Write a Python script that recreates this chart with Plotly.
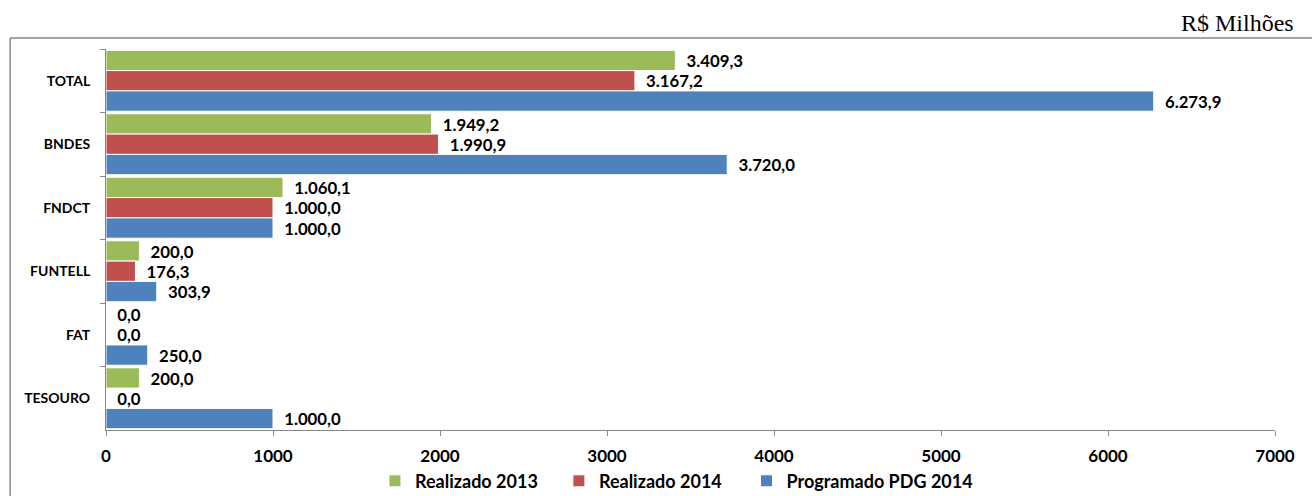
import plotly.graph_objects as go

categories = ["TOTAL", "BNDES", "FNDCT", "FUNTELL", "FAT", "TESOURO"]
realizado_2013 = [3409.3, 1949.2, 1060.1, 200.0, 0.0, 200.0]
realizado_2014 = [3167.2, 1990.9, 1000.0, 176.3, 0.0, 0.0]
programado_2014 = [6273.9, 3720.0, 1000.0, 303.9, 250.0, 1000.0]
series_names = ["Realizado 2013", "Realizado 2014", "Programado PDG 2014"]
colors = ["#9BBB59", "#C0504D", "#4F81BD"]
x_ticks = [0, 1000, 2000, 3000, 4000, 5000, 6000, 7000]

FONT = "Lato"
legend_ids = ["legend", "legend2", "legend3"]
legend_x = [0.2858, 0.426, 0.569]

fig = go.Figure()
for name, vals, col, lg in zip(series_names, [realizado_2013, realizado_2014, programado_2014],
                               colors, legend_ids):
    fig.add_trace(go.Bar(
        y=categories, x=vals, name=name, orientation="h", legend=lg,
        marker=dict(color=col, line=dict(color="white", width=1)),
        texttemplate="  %{x:,.1f}", textposition="outside", cliponaxis=False,
        textfont=dict(family=FONT, size=19, color="black", weight="bold"),
    ))

leg_common = dict(orientation="h", xref="container", yref="container", xanchor="left",
                  y=0.03, yanchor="middle", itemwidth=30,
                  font=dict(family=FONT, size=18, weight="bold"))
layout_legends = {lg: dict(x=lx, **leg_common) for lg, lx in zip(legend_ids, legend_x)}

fig.update_layout(
    width=1312, height=496,
    margin=dict(l=106, r=37, t=49, b=66, autoexpand=False),
    paper_bgcolor="white", plot_bgcolor="white",
    separators=",.",
    barmode="group", bargap=0.04, bargroupgap=0,
    font=dict(family=FONT, color="black"),
    showlegend=True,
    **layout_legends,
)
fig.update_xaxes(range=[0, 7000], tickvals=x_ticks, showgrid=False, zeroline=False,
                 showline=True, linecolor="#888888", linewidth=1,
                 ticks="outside", ticklen=5, tickcolor="#888888", automargin=False,
                 ticklabelstandoff=6,
                 tickfont=dict(family=FONT, size=17, weight="bold"))
fig.update_yaxes(autorange="reversed", showgrid=False, showline=True,
                 linecolor="#888888", linewidth=1, ticks="outside", ticklen=5,
                 tickcolor="#888888", tickson="boundaries", automargin=False,
                 ticklabelstandoff=12,
                 tickfont=dict(family=FONT, size=14, weight="bold"))

# outer frame
fig.add_shape(type="line", xref="paper", yref="paper", x0=-0.082, x1=1.05, y0=1.029, y1=1.029,
              line=dict(color="#888888", width=1.5))
fig.add_shape(type="line", xref="paper", yref="paper", x0=-0.082, x1=-0.082, y0=1.029, y1=-0.3,
              line=dict(color="#888888", width=1.5))
fig.add_annotation(text="R$ Milhões", xref="paper", yref="paper", x=1.018, y=1.03,
                   xanchor="right", yanchor="bottom", showarrow=False,
                   font=dict(family="Liberation Serif", size=24, color="black"))

fig.write_html("out.html", config={"displayModeBar": False},
               post_script="document.body.style.margin='0';")
